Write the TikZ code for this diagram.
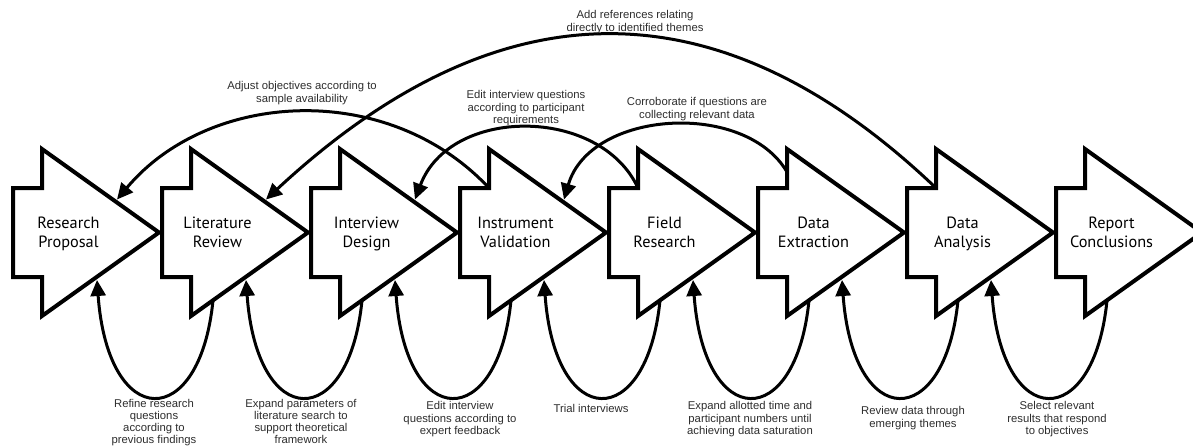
\documentclass[tikz,border=0pt]{standalone}
\usepackage{fontspec}
\setmainfont{Liberation Sans}
\newfontfamily\stepfamily{PT Sans}
\usetikzlibrary{arrows.meta}
\definecolor{notegray}{RGB}{45,45,45}
\tikzset{
  % Block arrow outline
  StepShape/.style={draw=black,fill=white,line width=4pt,miter limit=20},
  % Text inside a block arrow
  StepTxt/.style={font=\stepfamily\fontsize{16.3}{18.5}\selectfont,
                  align=center,inner sep=0pt,anchor=north},
  % Small grey note
  Note/.style={font=\fontsize{11.3}{12.8}\selectfont,align=center,
               inner sep=0pt,text=notegray,anchor=north},
  % Tighter note for four lines
  TightNote/.style={Note,font=\fontsize{11.3}{12.2}\selectfont},
  % Feedback arrows
  Back/.style={-{Triangle[length=16pt,width=15pt]},line width=3pt},
}
\begin{document}
\begin{tikzpicture}[x=1pt,y=-1pt]
\useasboundingbox (0,0) rectangle (1193,447);
% ── Block arrows ─────────────────────────
\foreach \i/\txt in {1/{Research\\Proposal},2/{Literature\\Review},
    3/{Interview\\Design},4/{Instrument\\Validation},5/{Field\\Research},
    6/{Data\\Extraction},7/{Data\\Analysis},8/{Report\\Conclusions}}{
  \pgfmathsetmacro\xl{13+149*(\i-1)}
  \draw[StepShape] (\xl,188) -- ++(29,0) -- ++(0,-39) -- ++(117,83.5)
    -- ++(-117,83.5) -- ++(0,-39) -- ++(-29,0) -- cycle;
  \node[StepTxt] (step\i) at (\xl+55.5,217) {\txt};
  \coordinate (notch\i) at (\xl+29,188);
  \coordinate (side\i)  at (\xl+29,172);
  \coordinate (up\i)    at (\xl+104,199.5);
  \coordinate (tip\i)   at (\xl+84,280);
  \coordinate (low\i)   at (\xl+51,300.3);
}
% ── Feedback over the top ────────────────
\draw[Back] (notch4) .. controls (388,80) and (209,90) .. (up1);
\draw[Back] (notch7) .. controls (720,-18) and (500,-18) .. (up2);
\draw[Back] (notch5) .. controls (600,106) and (450,106) .. (up3);
\draw[Back] (side6) .. controls (745,100) and (590,110) .. (up4);
\node[Note] (adj)  at (302,81) {Adjust objectives according to\\sample availability};
\node[Note] (refs) at (635,10) {Add references relating\\directly to identified themes};
\node[Note] (edq)  at (526,90) {Edit interview questions\\according to participant\\requirements};
\node[Note] (corr) at (697,97) {Corroborate if questions are\\collecting relevant data};
% ── Loops underneath ─────────────────────
\foreach \i in {1,...,7}{
  \pgfmathtruncatemacro\j{\i+1}
  \draw[Back] (low\j) .. controls +(-13,132) and +(11,152) .. (tip\i);
}
\node[TightNote] (lp1) at (154,399) {Refine research\\questions\\according to\\previous findings};
\node[TightNote] (lp2) at (301,399) {Expand parameters of\\literature search to\\support theoretical\\framework};
\node[Note] (lp3) at (460,401) {Edit interview\\questions according to\\expert feedback};
\node[Note] (lp4) at (591,404) {Trial interviews};
\node[Note] (lp5) at (750,401) {Expand allotted time and\\participant numbers until\\achieving data saturation};
\node[Note] (lp6) at (913,406) {Review data through\\emerging themes};
\node[Note] (lp7) at (1057,401) {Select relevant\\results that respond\\to objectives};
\end{tikzpicture}
\end{document}
